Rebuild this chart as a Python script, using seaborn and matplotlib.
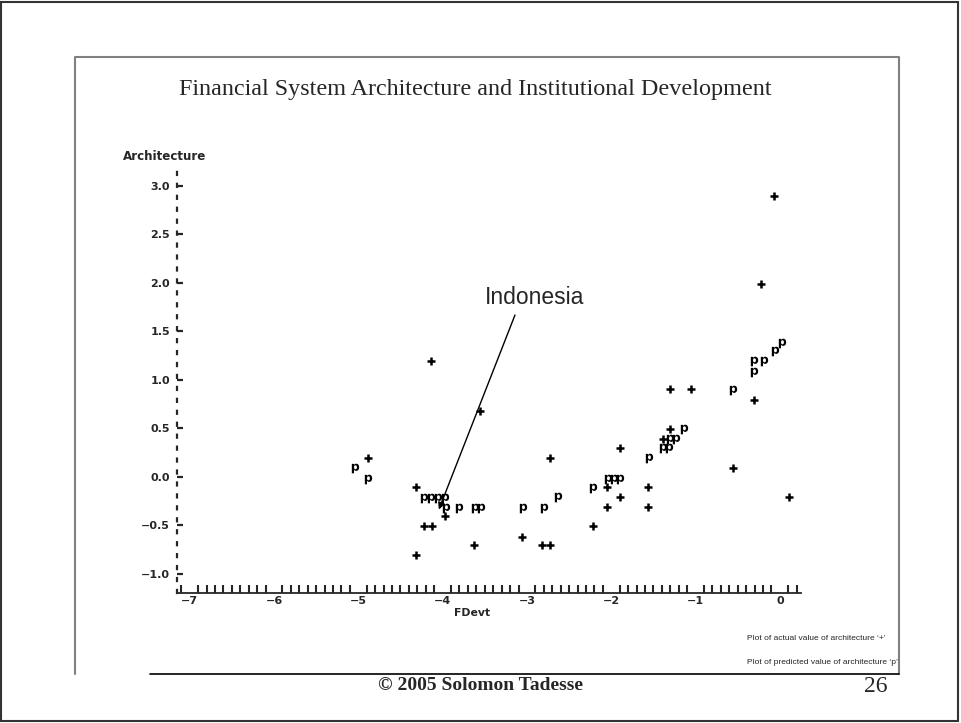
import numpy as np
import pandas as pd
import matplotlib
matplotlib.use("Agg")
import matplotlib.pyplot as plt
import seaborn as sns

# actual value of architecture ('+')
actual_fdevt = [-4.89, -4.31, -3.97, -4.22, -4.13, -4.31, -3.63, -3.06, -2.82, -2.73,
                -2.73, -2.22, -4.14, -3.56, -2.05, -2.05, -1.90, -1.90, -1.57, -1.57,
                -1.39, -1.30, -1.30, -1.06, -0.56, -0.31, -0.23, -0.07, 0.11]
actual_arch = [0.19, -0.11, -0.41, -0.51, -0.51, -0.81, -0.71, -0.62, -0.71, -0.71,
               0.19, -0.51, 1.19, 0.68, -0.11, -0.31, -0.21, 0.29, -0.11, -0.31,
               0.39, 0.49, 0.90, 0.90, 0.09, 0.79, 1.99, 2.89, -0.21]

# predicted value of architecture ('p')
pred_fdevt = [-5.04, -4.88, -4.22, -4.14, -4.06, -3.97, -3.96, -3.80, -3.62, -3.55,
              -3.05, -2.80, -2.63, -2.22, -2.04, -1.97, -1.90, -1.55, -1.39, -1.31,
              -1.30, -1.23, -1.14, -0.56, -0.31, -0.31, -0.19, -0.06, 0.02]
pred_arch = [0.09, -0.02, -0.22, -0.22, -0.22, -0.22, -0.32, -0.32, -0.32, -0.32,
             -0.32, -0.32, -0.21, -0.12, -0.02, -0.02, -0.02, 0.19, 0.29, 0.29,
             0.39, 0.39, 0.49, 0.89, 1.08, 1.19, 1.19, 1.29, 1.38]

x_ticks = [-7, -6, -5, -4, -3, -2, -1, 0]
y_ticks = [-1.0, -0.5, 0.0, 0.5, 1.0, 1.5, 2.0, 2.5, 3.0]
indonesia = (-4.045, -0.34)

W, H = 961, 723
plt.rcParams['lines.scale_dashes'] = False
sns.set_style("white")

fig = plt.figure(figsize=(W / 100, H / 100), dpi=100)
ax = fig.add_axes([177 / W, (H - 593) / H, 624 / W, 423 / H])

actual = pd.DataFrame({"FDevt": actual_fdevt, "Architecture": actual_arch})
pred = pd.DataFrame({"FDevt": pred_fdevt, "Architecture": pred_arch})
sns.scatterplot(data=actual, x="FDevt", y="Architecture", marker="+", s=40,
                color="black", linewidth=1.8, ax=ax)
sns.scatterplot(data=pred, x="FDevt", y="Architecture", marker=r"$\mathbf{p}$", s=48,
                color="black", linewidth=0, ax=ax)

ax.set_xlim(-7.15, 0.25)
ax.set_ylim(-1.2, 3.16)
ax.set_xlabel("")
ax.set_ylabel("")

bold = dict(family="DejaVu Sans", weight="bold", size=8)
ax.set_xticks(x_ticks)
ax.set_xticklabels([str(t).replace("-", "\u2212") for t in x_ticks], fontdict=bold)
ax.set_yticks(y_ticks)
ax.set_yticklabels([f"{t:.1f}".replace("-", "\u2212") for t in y_ticks], fontdict=bold)
ax.set_xticks(np.arange(-7.1, 0.25, 0.1), minor=True)
ax.tick_params(axis="x", which="major", direction="in", length=7, width=1.5, pad=2)
ax.tick_params(axis="x", which="minor", direction="in", length=6, width=1.5, bottom=True)
ax.tick_params(axis="y", which="major", direction="in", length=4, width=1.6, pad=5, left=True)

for s in ["top", "right"]:
    ax.spines[s].set_visible(False)
ax.spines["left"].set_linestyle((0, (2.2, 6.4)))
ax.spines["left"].set_linewidth(1.6)
ax.spines["bottom"].set_linewidth(1.3)

ax.text(123 / W, (H - 157) / H, "Architecture", transform=fig.transFigure,
        ha="left", va="center", family="DejaVu Sans", weight="bold", size=8.6)
ax.text(472 / W, (H - 613) / H, "FDevt", transform=fig.transFigure,
        ha="center", va="center", family="DejaVu Sans", weight="bold", size=7.8)

# Indonesia callout
fig.text(485 / W, (H - 297) / H, "Indonesia", family="Liberation Sans", size=16.5,
         ha="left", va="center")
ax.annotate("", xy=indonesia, xycoords="data", xytext=(515, H - 315),
            textcoords="figure pixels",
            arrowprops=dict(arrowstyle="-|>", color="black", lw=1,
                            mutation_scale=10, shrinkA=0, shrinkB=0))

# slide texts
fig.text(475 / W, (H - 89) / H, "Financial System Architecture and Institutional Development",
         family="Liberation Serif", size=17.4, ha="center", va="center")
fig.text(747 / W, (H - 639) / H, "Plot of actual value of architecture \u2018+\u2019",
         family="Liberation Sans", size=6.0, ha="left", va="center")
fig.text(747 / W, (H - 663) / H, "Plot of predicted value of architecture \u2018p\u2019",
         family="Liberation Sans", size=6.0, ha="left", va="center")
fig.text(480 / W, (H - 685) / H, "\u00a9 2005 Solomon Tadesse", family="Liberation Serif",
         weight="bold", size=14, ha="center", va="center")
fig.text(876 / W, (H - 686) / H, "26", family="Liberation Serif", size=17,
         ha="center", va="center")

# frames
fig.add_artist(plt.Rectangle((1 / W, 2 / H), 957 / W, 719 / H, transform=fig.transFigure,
                             fill=False, edgecolor="#333333", lw=1.5))
fig.add_artist(plt.Line2D([75 / W, 75 / W, 899 / W, 899 / W],
                          [(H - 674) / H, (H - 57) / H, (H - 57) / H, (H - 674) / H],
                          transform=fig.transFigure, color="#808080", lw=1.5))
fig.add_artist(plt.Line2D([150 / W, 899 / W], [(H - 674) / H, (H - 674) / H],
                          transform=fig.transFigure, color="black", lw=1.2))

fig.savefig("out.png", dpi=100, facecolor="white")
